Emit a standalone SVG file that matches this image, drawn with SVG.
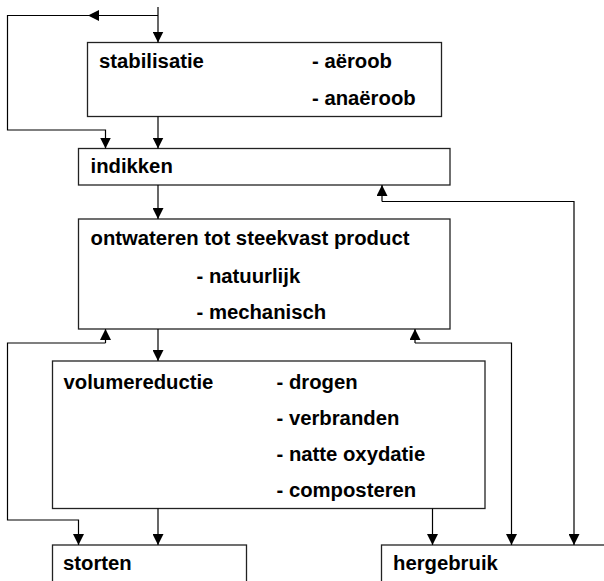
<svg xmlns="http://www.w3.org/2000/svg" width="604" height="581" viewBox="0 0 604 581">
<style>
.box{fill:#fff;stroke:#222;stroke-width:1.3}
.t{font-family:"Liberation Sans",Arial,sans-serif;font-weight:bold;font-size:20.3px;fill:#000}
.c{fill:none;stroke:#000;stroke-width:1.2}
.a{marker-end:url(#arr)}
</style>
<defs>
<marker id="arr" markerUnits="userSpaceOnUse" markerWidth="11" markerHeight="11" refX="11" refY="5.5" orient="auto">
<path d="M0,0 L11,5.5 L0,11 z" fill="#000"/>
</marker>
</defs>
<rect width="604" height="581" fill="#fff"/>
<g id="stabilisatie">
<rect class="box" x="87.5" y="42.5" width="354" height="74"/>
<text class="t" x="99" y="68">stabilisatie</text>
<text class="t" x="312" y="68">- aëroob</text>
<text class="t" x="312" y="105">- anaëroob</text>
</g>
<g id="indikken">
<rect class="box" x="78.5" y="148.5" width="371.5" height="36.5"/>
<text class="t" x="90.5" y="173">indikken</text>
</g>
<g id="ontwateren">
<rect class="box" x="78.5" y="219" width="371.5" height="110"/>
<text class="t" x="90.5" y="245">ontwateren tot steekvast product</text>
<text class="t" x="196.5" y="283">- natuurlijk</text>
<text class="t" x="196.5" y="319">- mechanisch</text>
</g>
<g id="volumereductie">
<rect class="box" x="52.5" y="361" width="432.5" height="147.5"/>
<text class="t" x="63.5" y="389">volumereductie</text>
<text class="t" x="276.5" y="389">- drogen</text>
<text class="t" x="276.5" y="425">- verbranden</text>
<text class="t" x="276.5" y="461">- natte oxydatie</text>
<text class="t" x="276.5" y="497">- composteren</text>
</g>
<g id="storten">
<rect class="box" x="52.5" y="545" width="194" height="60"/>
<text class="t" x="63" y="570">storten</text>
</g>
<g id="hergebruik">
<rect class="box" x="381.5" y="545" width="240" height="60"/>
<text class="t" x="393" y="570">hergebruik</text>
</g>
<g id="connectors">
<path class="c a" d="M158,7 V42.5"/>
<path class="c a" d="M158,15.5 H88"/>
<path class="c a" d="M88,15.5 H7.5 V130 H105.5 V148.5"/>
<path class="c a" d="M158,116.5 V148.5"/>
<path class="c a" d="M158,185 V219"/>
<path class="c a" d="M158,329 V361"/>
<path class="c a" d="M158,508.5 V545"/>
<path class="c a" d="M105.5,343 V329"/>
<path class="c a" d="M105.5,343 H7.5 V520 H78.5 V545"/>
<path class="c a" d="M432.5,508.5 V545"/>
<path class="c a" d="M415,343 V329"/>
<path class="c a" d="M415,343 H511.5 V545"/>
<path class="c a" d="M382,201.5 V185"/>
<path class="c a" d="M382,201.5 H574 V545"/>
</g>
</svg>
